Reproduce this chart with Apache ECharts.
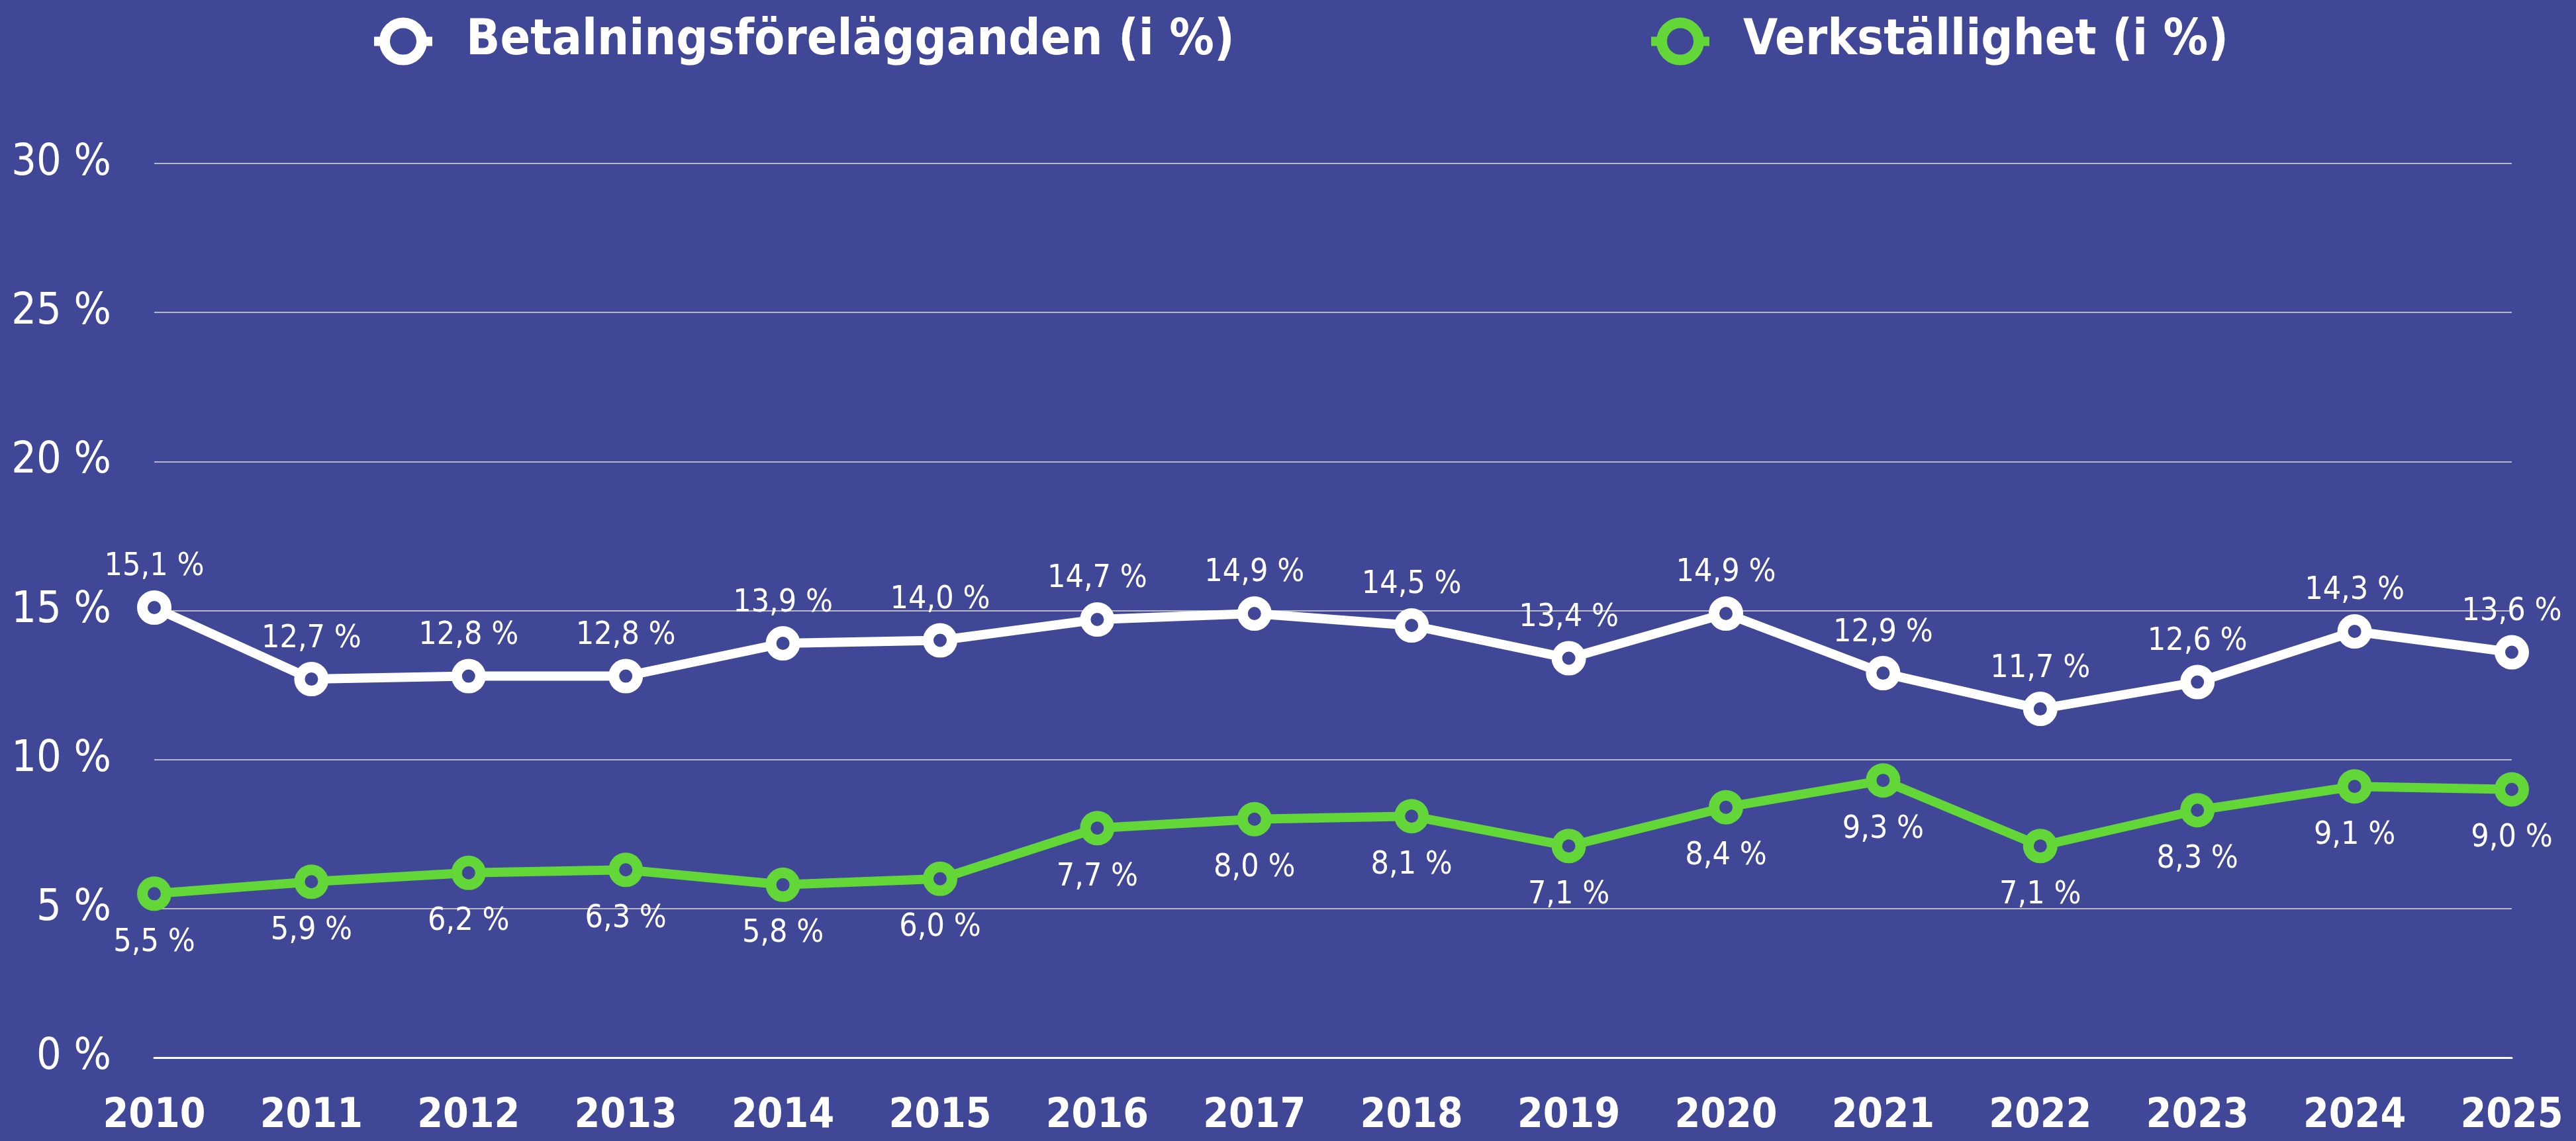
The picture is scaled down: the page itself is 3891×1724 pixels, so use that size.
<!DOCTYPE html>
<html lang="sv">
<head>
    <meta charset="UTF-8">
    <title>Betalningsförelägganden och verkställighet</title>
    <script type="text/javascript" src="https://cdn.jsdelivr.net/npm/echarts@6/dist/echarts.min.js"></script>
    <style>
        html, body { margin: 0; padding: 0; background: #404797; }
    </style>
</head>
<body>
<div id="main" style="width: 3891px;height:1724px;"></div>
<script>
    // år
    var years = ['2010', '2011', '2012', '2013', '2014', '2015', '2016', '2017',
        '2018', '2019', '2020', '2021', '2022', '2023', '2024', '2025'];
    // Betalningsförelägganden (i %)
    var betalning = [15.1, 12.7, 12.8, 12.8, 13.9, 14.0, 14.7, 14.9, 14.5, 13.4, 14.9, 12.9, 11.7, 12.6, 14.3, 13.6];
    // Verkställighet (i %)
    var verkstallighet = [5.5, 5.9, 6.2, 6.3, 5.8, 6.0, 7.7, 8.0, 8.1, 7.1, 8.4, 9.3, 7.1, 8.3, 9.1, 9.0];
    var seriesNames = ['Betalningsförelägganden (i %)', 'Verkställighet (i %)'];

    var bg = '#404797';
    var white = '#ffffff';
    var green = '#63d737';
    var font = "'DejaVu Sans Condensed', 'DejaVu Sans', sans-serif";

    function pct(p) {
        return p.value.toFixed(1).replace('.', ',') + ' %';
    }

    var legendBase = {
        top: 20,
        itemWidth: 88,
        itemHeight: 70,
        itemStyle: { borderWidth: 16 },
        lineStyle: { width: 14 },
        textStyle: {
            color: white,
            fontFamily: font,
            fontSize: 75,
            fontWeight: 'bold',
            padding: [0, 0, 0, 46]
        }
    };

    var option = {
        backgroundColor: bg,
        animation: false,
        legend: [
            Object.assign({}, legendBase, { left: 553, data: [seriesNames[0]] }),
            Object.assign({}, legendBase, { left: 2482, data: [seriesNames[1]] })
        ],
        grid: {
            left: 233,
            right: 97,
            top: 247,
            bottom: 126,
            outerBoundsMode: 'none'
        },
        xAxis: {
            type: 'category',
            boundaryGap: false,
            data: years,
            axisTick: { show: false },
            axisLine: { lineStyle: { color: white, width: 3 } },
            axisLabel: {
                interval: 0,
                color: white,
                fontFamily: font,
                fontSize: 62,
                fontWeight: 'bold',
                margin: 58
            }
        },
        yAxis: {
            type: 'value',
            min: 0,
            max: 30,
            interval: 5,
            axisLine: { show: false },
            axisTick: { show: false },
            splitLine: { lineStyle: { color: '#b8b8c4', width: 2 } },
            axisLabel: {
                color: white,
                fontFamily: font,
                fontSize: 66,
                margin: 65,
                formatter: '{value} %'
            }
        },
        series: [
            {
                name: seriesNames[0],
                type: 'line',
                data: betalning,
                symbol: 'circle',
                symbolSize: 36,
                lineStyle: { color: white, width: 14 },
                itemStyle: { color: bg, borderColor: white, borderWidth: 16 },
                label: {
                    show: true,
                    position: 'top',
                    distance: 11,
                    color: white,
                    fontFamily: font,
                    fontSize: 48,
                    formatter: pct
                },
                z: 3
            },
            {
                name: seriesNames[1],
                type: 'line',
                data: verkstallighet,
                symbol: 'circle',
                symbolSize: 36,
                lineStyle: { color: green, width: 14 },
                itemStyle: { color: bg, borderColor: green, borderWidth: 16 },
                label: {
                    show: true,
                    position: 'bottom',
                    distance: 24,
                    color: white,
                    fontFamily: font,
                    fontSize: 48,
                    formatter: pct
                },
                z: 2
            }
        ]
    };

    var myChart = echarts.init(document.getElementById('main'));
    myChart.setOption(option);
</script>
</body>
</html>
